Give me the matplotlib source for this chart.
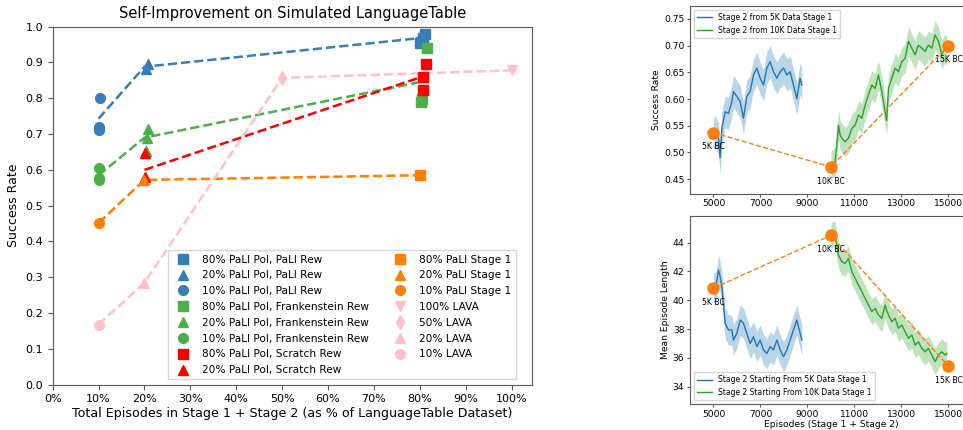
import numpy as np
import matplotlib
matplotlib.use("Agg")
import matplotlib.pyplot as plt

# ---- left panel: self-improvement results (x = fraction of dataset) ----
pali_circ_x = [0.103, 0.102, 0.102]
pali_circ_y = [0.800, 0.720, 0.712]
pali_tri_x = [0.207, 0.203]
pali_tri_y = [0.897, 0.882]
pali_sq_x = [0.812, 0.806, 0.803, 0.800]
pali_sq_y = [0.980, 0.968, 0.958, 0.955]
pali_line = [0.743, 0.888, 0.968]

frank_circ_x = [0.101, 0.101, 0.102]
frank_circ_y = [0.605, 0.573, 0.577]
frank_tri_x = [0.207, 0.205, 0.204]
frank_tri_y = [0.715, 0.690, 0.652]
frank_sq_x = [0.815, 0.805, 0.802]
frank_sq_y = [0.940, 0.798, 0.790]
frank_line = [0.585, 0.690, 0.845]

scratch_tri_x = [0.201, 0.201]
scratch_tri_y = [0.648, 0.580]
scratch_sq_x = [0.813, 0.808, 0.808]
scratch_sq_y = [0.896, 0.860, 0.822]
scratch_line_x = [0.20, 0.80]
scratch_line = [0.600, 0.858]

stage1_x = [0.10, 0.20, 0.80]
stage1_y = [0.452, 0.572, 0.585]

lava_x = [0.10, 0.20, 0.50, 1.00]
lava_y = [0.168, 0.285, 0.857, 0.878]

line_x = [0.10, 0.20, 0.80]

# ---- right panels: learning curves ----
bc_ep = [5000, 10000, 15000]
bc_labels = ["5K BC", "10K BC", "15K BC"]
bc_success = [0.537, 0.473, 0.700]
bc_length = [40.85, 44.5, 35.42]

blue_ep = [5000, 5100, 5213, 5284, 5355, 5496, 5638, 5780, 5851, 5993,
           6135, 6277, 6418, 6560, 6702, 6844, 6986, 7128, 7270, 7411,
           7553, 7695, 7837, 7979, 8121, 8262, 8404, 8546, 8688, 8759]
blue_success = [0.537, 0.537, 0.526, 0.490, 0.545, 0.576, 0.573, 0.595, 0.614, 0.605,
                0.595, 0.564, 0.605, 0.614, 0.645, 0.658, 0.639, 0.626, 0.658, 0.670,
                0.651, 0.639, 0.651, 0.658, 0.645, 0.651, 0.626, 0.601, 0.639, 0.626]
blue_length = [40.85, 40.9, 42.1, 41.64, 40.94, 38.4, 37.94, 37.94, 37.24, 37.7,
               38.63, 38.4, 37.7, 37.0, 37.47, 36.78, 37.24, 36.55, 36.31, 36.78,
               36.55, 37.24, 36.55, 36.08, 36.55, 37.24, 37.94, 38.63, 37.7, 37.24]

green_ep = [10000, 10100, 10177, 10248, 10319, 10390, 10461, 10603, 10745, 10887,
            11028, 11170, 11312, 11454, 11596, 11738, 11879, 12021, 12163, 12305,
            12370, 12447, 12589, 12730, 12872, 13014, 13156, 13298, 13440, 13582,
            13723, 13865, 14007, 14149, 14291, 14433, 14574, 14716, 14858, 14929]
green_success = [0.475, 0.480, 0.483, 0.514, 0.551, 0.533, 0.527, 0.520, 0.527, 0.545,
                 0.551, 0.570, 0.564, 0.589, 0.608, 0.626, 0.620, 0.645, 0.614, 0.576,
                 0.560, 0.620, 0.639, 0.658, 0.651, 0.670, 0.676, 0.708, 0.695, 0.683,
                 0.701, 0.695, 0.689, 0.701, 0.695, 0.720, 0.708, 0.683, 0.695, 0.689]
green_length = [44.5, 44.6, 44.53, 43.84, 43.14, 42.9, 42.68, 42.56, 42.91, 41.99,
                41.52, 41.06, 40.6, 40.13, 39.67, 39.21, 39.44, 38.98, 38.75, 39.67,
                39.3, 38.98, 38.51, 38.75, 38.05, 38.28, 37.82, 37.36, 37.59, 36.89,
                37.12, 36.66, 36.43, 36.66, 36.2, 35.74, 36.2, 36.43, 36.2, 36.31]

blue_success_spread = 0.03
green_success_spread = 0.027
blue_length_spread = 1.05
green_length_spread = 0.9

BLUE = "#377eb8"
GREEN = "#4daf4a"
RED = "#ff0000"
ORANGE = "#ff7f00"
PINK = "#ffc0cb"
SPINE = "0.35"

fig = plt.figure(figsize=(9.63, 4.30), dpi=100)

# ================= left panel =================
ax = fig.add_axes([0.0547, 0.1053, 0.4973, 0.8327])
ms = 7
ax.plot(line_x, pali_line, "--", color=BLUE, lw=1.8, zorder=2)
ax.plot(line_x, frank_line, "--", color=GREEN, lw=1.8, zorder=2)
ax.plot(scratch_line_x, scratch_line, "--", color=RED, lw=1.8, zorder=2)
ax.plot(stage1_x, stage1_y, "--", color=ORANGE, lw=1.8, zorder=2)
ax.plot(lava_x, lava_y, "--", color=PINK, lw=1.8, zorder=2)

ax.plot(pali_sq_x, pali_sq_y, ls="none", marker="s", ms=ms, color=BLUE, label="80% PaLI Pol, PaLI Rew")
ax.plot(pali_tri_x, pali_tri_y, ls="none", marker="^", ms=ms, color=BLUE, label="20% PaLI Pol, PaLI Rew")
ax.plot(pali_circ_x, pali_circ_y, ls="none", marker="o", ms=ms, color=BLUE, label="10% PaLI Pol, PaLI Rew")
ax.plot(frank_sq_x, frank_sq_y, ls="none", marker="s", ms=ms, color=GREEN, label="80% PaLI Pol, Frankenstein Rew")
ax.plot(frank_tri_x, frank_tri_y, ls="none", marker="^", ms=ms, color=GREEN, label="20% PaLI Pol, Frankenstein Rew")
ax.plot(frank_circ_x, frank_circ_y, ls="none", marker="o", ms=ms, color=GREEN, label="10% PaLI Pol, Frankenstein Rew")
ax.plot(scratch_sq_x, scratch_sq_y, ls="none", marker="s", ms=ms, color=RED, label="80% PaLI Pol, Scratch Rew")
ax.plot(scratch_tri_x, scratch_tri_y, ls="none", marker="^", ms=ms, color=RED, label="20% PaLI Pol, Scratch Rew")
ax.plot(stage1_x[2:], stage1_y[2:], ls="none", marker="s", ms=ms, color=ORANGE, label="80% PaLI Stage 1")
ax.plot(stage1_x[1:2], stage1_y[1:2], ls="none", marker="^", ms=ms, color=ORANGE, label="20% PaLI Stage 1")
ax.plot(stage1_x[:1], stage1_y[:1], ls="none", marker="o", ms=ms, color=ORANGE, label="10% PaLI Stage 1")
ax.plot(lava_x[3:], lava_y[3:], ls="none", marker="v", ms=ms, color=PINK, label="100% LAVA")
ax.plot(lava_x[2:3], lava_y[2:3], ls="none", marker="d", ms=ms, color=PINK, label="50% LAVA")
ax.plot(lava_x[1:2], lava_y[1:2], ls="none", marker="^", ms=ms, color=PINK, label="20% LAVA")
ax.plot(lava_x[:1], lava_y[:1], ls="none", marker="o", ms=ms, color=PINK, label="10% LAVA")

ax.set_xlim(0, 1.0435)
ax.set_ylim(0, 1.0)
ax.set_xticks(np.arange(0, 1.01, 0.1))
ax.set_xticklabels([f"{int(round(v * 100))}%" for v in np.arange(0, 1.01, 0.1)])
ax.set_yticks(np.arange(0, 1.01, 0.1))
ax.tick_params(labelsize=8.0, length=3.5, color=SPINE)
for s in ax.spines.values():
    s.set_color(SPINE)
ax.set_title("Self-Improvement on Simulated LanguageTable", fontsize=10.5, pad=6)
ax.set_xlabel("Total Episodes in Stage 1 + Stage 2 (as % of LanguageTable Dataset)", fontsize=9.1, labelpad=2)
ax.set_ylabel("Success Rate", fontsize=9.0)
ax.legend(ncol=2, loc="lower right", fontsize=7.6, frameon=True, fancybox=False,
          edgecolor="0.8", labelspacing=0.55, borderaxespad=0.5,
          bbox_to_anchor=(0.978, 0.0))

# ================= right panels =================
def curve_panel(axis, ys_blue, ys_green, sp_blue, sp_green, bc_vals, label_blue, label_green,
                legend_loc):
    b = np.array(ys_blue)
    g = np.array(ys_green)
    axis.fill_between(blue_ep, b - sp_blue, b + sp_blue, color="#1f77b4", alpha=0.3, lw=0)
    axis.plot(blue_ep, b, color="#1f77b4", lw=1.0, label=label_blue)
    axis.fill_between(green_ep, g - sp_green, g + sp_green, color="#2ca02c", alpha=0.3, lw=0)
    axis.plot(green_ep, g, color="#2ca02c", lw=1.0, label=label_green)
    axis.plot(bc_ep, bc_vals, "--", color="#ff7f0e", lw=1.0, marker="o", ms=8, zorder=5)
    for e, v, t in zip(bc_ep, bc_vals, bc_labels):
        axis.annotate(t, (e, v), xytext=(0, -7), textcoords="offset points",
                      ha="center", va="top", fontsize=5.6)
    axis.set_xlim(4000, 16000)
    axis.set_xticks([5000, 7000, 9000, 11000, 13000, 15000])
    axis.tick_params(labelsize=6.6, length=2.5, pad=1.5, color=SPINE)
    for s in axis.spines.values():
        s.set_color(SPINE)
    axis.legend(loc=legend_loc, fontsize=5.5, fancybox=False, edgecolor="0.8")

ax_top = fig.add_axes([0.7165, 0.549, 0.2928, 0.437])
curve_panel(ax_top, blue_success, green_success, blue_success_spread, green_success_spread,
            bc_success, "Stage 2 from 5K Data Stage 1", "Stage 2 from 10K Data Stage 1",
            "upper left")
ax_top.set_ylim(0.4225, 0.774)
ax_top.set_yticks([0.45, 0.50, 0.55, 0.60, 0.65, 0.70, 0.75])
ax_top.set_ylabel("Success Rate", fontsize=6.6, labelpad=2)

ax_bot = fig.add_axes([0.7165, 0.0605, 0.2928, 0.4372])
curve_panel(ax_bot, blue_length, green_length, blue_length_spread, green_length_spread,
            bc_length, "Stage 2 Starting From 5K Data Stage 1",
            "Stage 2 Starting From 10K Data Stage 1", "lower left")
ax_bot.set_ylim(32.8, 45.85)
ax_bot.set_yticks([34, 36, 38, 40, 42, 44])
ax_bot.set_ylabel("Mean Episode Length", fontsize=6.6, labelpad=2)
ax_bot.set_xlabel("Episodes (Stage 1 + Stage 2)", fontsize=6.6, labelpad=1)

fig.savefig("out.png", dpi=100)
